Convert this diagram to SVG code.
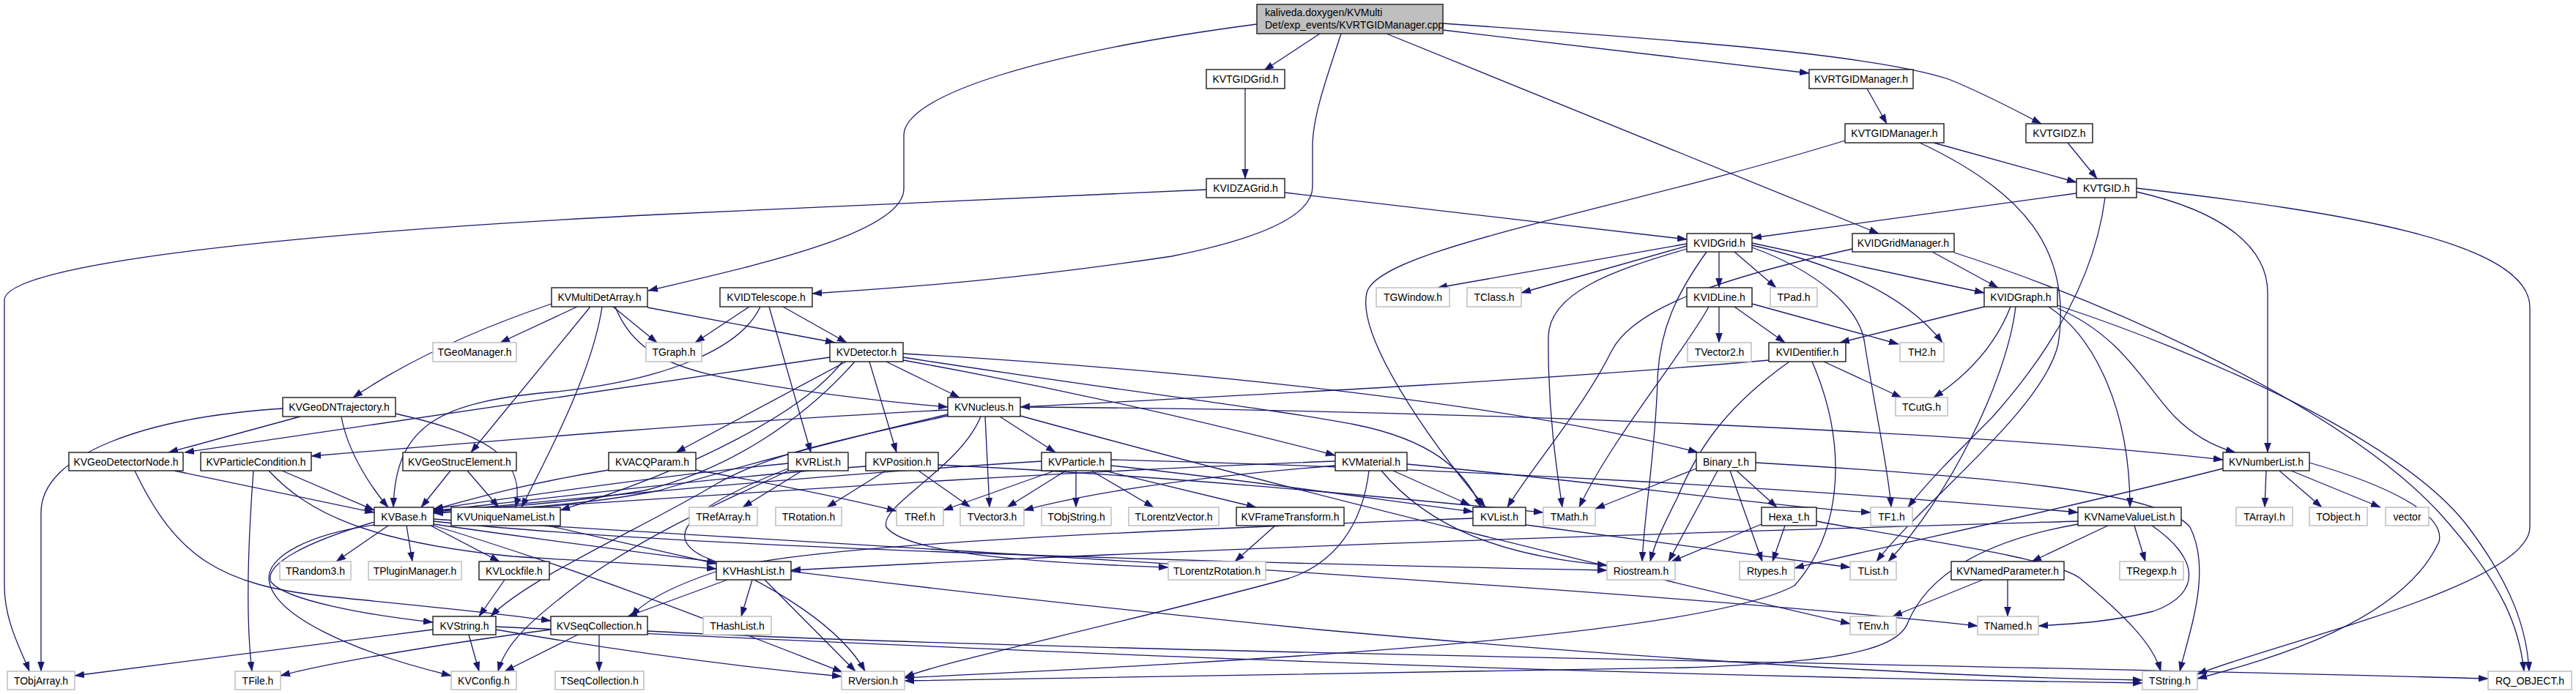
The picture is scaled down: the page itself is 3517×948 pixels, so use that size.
<svg xmlns="http://www.w3.org/2000/svg" width="3517" height="948" viewBox="0 0 3517 948">
<style>
.n rect{fill:#fff;stroke:#1a1a1a;stroke-width:1.4}
.x rect{fill:#fff;stroke:#bfbfbf;stroke-width:1.5}
.r rect{fill:#bfbfbf;stroke:#1a1a1a;stroke-width:1.4}
text{font-family:"Liberation Sans",Arial,Helvetica,sans-serif;font-size:14px;fill:#000;text-anchor:middle}
.r text{text-anchor:start}
#edges path{fill:none;stroke:#191970;stroke-width:1.3;marker-end:url(#a)}
</style>
<defs>
<marker id="a" markerUnits="userSpaceOnUse" markerWidth="13" markerHeight="10" refX="13" refY="5" orient="auto" viewBox="0 0 13 10">
<path d="M0,0.5 L13,5 L0,9.5 z" fill="#191970" stroke="#191970" stroke-width="0.5"/>
</marker>
</defs>
<rect width="3517" height="948" fill="#fff"/>
<g id="edges">
<path d="M1716,33 C1420,72 1234,130 1234,185 L1234,258 C1234,320 1020,365 885,397"/>
<path d="M1802,46 L1726,96"/>
<path d="M1831,46 C1810,110 1792,160 1792,200 L1792,255 C1792,300 1700,330 1600,350 C1400,380 1250,392 1109,401"/>
<path d="M1893,46 L2565,319"/>
<path d="M1970,41 L2470,100"/>
<path d="M1970,32 C2300,55 2560,75 2660,108 C2710,128 2750,150 2787,169"/>
<path d="M1700,121 L1700,244"/>
<path d="M2549,121 L2576,169"/>
<path d="M2823,195 L2863,244"/>
<path d="M2640,195 L2835,249"/>
<path d="M1754,263 L2303,327"/>
<path d="M2835,264 L2392,325"/>
<path d="M1647,259 L900,293 C400,318 6,360 6,410 L6,800 C6,850 30,890 40,917"/>
<path d="M2519,192 C2200,290 1880,340 1866,400 C1852,460 1950,600 2028,693"/>
<path d="M2621,195 C2760,260 2830,340 2810,470 C2790,560 2620,690 2562,767"/>
<path d="M2638,344 L2728,393"/>
<path d="M2529,340 C2350,380 2230,420 2200,480 C2160,560 2090,640 2058,693"/>
<path d="M2668,345 C2900,420 3200,560 3330,700 C3420,800 3440,860 3446,917"/>
<path d="M2303,333 L1963,393"/>
<path d="M2303,336 L2077,400"/>
<path d="M2347,344 L2347,393"/>
<path d="M2368,344 L2425,393"/>
<path d="M2392,332 L2709,400"/>
<path d="M2303,340 C2200,370 2115,400 2114,460 C2113,560 2125,640 2133,693"/>
<path d="M2330,344 C2290,400 2265,450 2263,520 C2260,620 2245,700 2242,767"/>
<path d="M2392,338 C2480,370 2540,420 2546,470 C2560,560 2578,640 2582,693"/>
<path d="M2392,335 C2500,360 2600,400 2652,468"/>
<path d="M2347,419 L2347,468"/>
<path d="M2368,419 L2437,468"/>
<path d="M2392,415 L2592,470"/>
<path d="M2333,419 C2300,480 2200,600 2156,693"/>
<path d="M2709,419 L2512,468"/>
<path d="M2745,419 C2725,470 2690,510 2640,543"/>
<path d="M2797,419 C2860,460 2908,560 2908,693"/>
<path d="M2809,421 C2900,460 2930,530 2970,570 C3000,600 3030,612 3052,618"/>
<path d="M2809,417 C3000,480 3280,600 3370,720 C3430,800 3450,860 3453,917"/>
<path d="M2752,419 C2740,520 2660,680 2578,767"/>
<path d="M2490,494 L2596,543"/>
<path d="M2415,492 C2100,520 1700,540 1393,556"/>
<path d="M2443,494 C2350,560 2315,620 2290,680 C2270,720 2260,740 2253,767"/>
<path d="M2474,494 C2520,600 2520,720 2450,800 C2300,880 1500,912 1235,926"/>
<path d="M2917,262 C3040,290 3096,340 3096,400 L3096,618"/>
<path d="M2917,257 C3200,290 3454,330 3454,420 L3454,720 C3454,800 3100,880 3000,921"/>
<path d="M2874,270 C2860,380 2800,480 2720,570 C2670,620 2630,660 2605,693"/>
<path d="M788,419 L683,468"/>
<path d="M837,419 L897,468"/>
<path d="M884,420 L1140,468"/>
<path d="M753,415 C650,450 560,490 482,543"/>
<path d="M806,419 L643,618"/>
<path d="M822,419 C810,500 760,600 712,693"/>
<path d="M840,419 C860,470 900,500 1000,518 C1100,536 1200,548 1294,556"/>
<path d="M1023,419 L949,468"/>
<path d="M1069,419 L1156,468"/>
<path d="M1050,419 L1107,618"/>
<path d="M1038,419 C1010,480 900,520 760,535 C600,548 540,580 537,693"/>
<path d="M1155,494 L923,618"/>
<path d="M1133,488 L252,618"/>
<path d="M1167,494 C1100,570 1000,640 880,670 C760,690 650,695 592,697"/>
<path d="M1187,494 L1224,618"/>
<path d="M1210,494 L1310,543"/>
<path d="M1233,483 C1700,510 2100,560 2318,618"/>
<path d="M1233,488 C1500,530 1750,560 1850,580 C1950,600 2000,640 2022,693"/>
<path d="M1233,492 C1500,540 1700,590 1823,622"/>
<path d="M1150,494 C1100,560 950,640 765,697"/>
<path d="M1294,560 C1000,575 700,600 425,623"/>
<path d="M1294,566 C1150,600 1000,640 900,670 C800,690 700,695 592,700"/>
<path d="M1345,569 L1351,693"/>
<path d="M1365,569 L1441,618"/>
<path d="M1393,556 C2000,560 2700,590 3035,628"/>
<path d="M1393,568 C1800,680 2300,800 2526,852"/>
<path d="M1339,569 C1310,640 1200,690 1210,720 C1240,760 1450,770 1595,775"/>
<path d="M1294,568 C1150,600 1050,620 980,660 C880,720 720,790 670,842"/>
<path d="M386,558 C200,570 56,620 56,700 L56,917"/>
<path d="M410,569 L230,618"/>
<path d="M466,569 C475,620 510,670 530,693"/>
<path d="M540,565 C650,590 720,620 704,693"/>
<path d="M238,643 L511,700"/>
<path d="M184,643 C240,760 300,800 450,815 C600,830 680,838 752,848"/>
<path d="M385,643 L511,697"/>
<path d="M346,643 C338,750 336,850 344,917"/>
<path d="M367,643 C420,700 500,740 700,760 C850,770 920,772 978,777"/>
<path d="M615,643 L575,693"/>
<path d="M638,643 L681,693"/>
<path d="M831,642 C720,660 650,680 592,696"/>
<path d="M950,642 C1050,660 1150,680 1224,698"/>
<path d="M1095,643 L1014,693"/>
<path d="M1076,633 C900,650 700,680 592,695"/>
<path d="M1076,640 C950,690 900,730 960,760 C1060,800 1150,860 1181,917"/>
<path d="M1182,637 C1000,650 750,680 592,698"/>
<path d="M1209,643 L1129,693"/>
<path d="M1254,643 L1325,693"/>
<path d="M1281,635 C1600,650 1900,680 2107,700"/>
<path d="M1422,630 C1100,650 750,685 592,699"/>
<path d="M1440,643 L1288,697"/>
<path d="M1455,643 L1375,693"/>
<path d="M1469,643 L1469,693"/>
<path d="M1490,643 L1575,693"/>
<path d="M1508,643 L1715,693"/>
<path d="M1517,636 C1700,655 1900,685 2011,699"/>
<path d="M1517,628 C2000,640 2500,670 2837,700"/>
<path d="M1823,630 C1300,650 800,690 592,701"/>
<path d="M1902,643 L2007,690"/>
<path d="M1886,643 C1950,720 2050,760 2194,772"/>
<path d="M1921,634 C2200,660 2400,690 2554,700"/>
<path d="M1823,636 C1650,650 1500,670 1398,697"/>
<path d="M1869,643 C1860,720 1820,770 1760,790 C1500,860 1300,900 1235,925"/>
<path d="M2316,640 L2178,695"/>
<path d="M2345,643 L2278,767"/>
<path d="M2362,643 L2406,767"/>
<path d="M2371,643 L2426,693"/>
<path d="M2397,632 C2700,650 2950,670 2990,720 C3020,780 2990,860 2976,917"/>
<path d="M2405,716 L2282,767"/>
<path d="M2437,718 L2420,767"/>
<path d="M2480,712 C2600,735 2800,760 2840,790 C2900,840 2940,880 2950,917"/>
<path d="M2083,717 L2526,775"/>
<path d="M2011,708 C1700,720 1100,740 980,780 C920,800 880,820 862,842"/>
<path d="M3094,643 L3092,693"/>
<path d="M3112,643 L3170,693"/>
<path d="M3128,643 L3250,693"/>
<path d="M3153,632 C3250,660 3340,700 3330,740 C3280,850 3100,900 3000,927"/>
<path d="M3035,640 C2800,700 2600,740 2450,776"/>
<path d="M2837,712 C2400,725 1700,745 1080,779"/>
<path d="M2878,718 L2774,767"/>
<path d="M2914,718 L2929,767"/>
<path d="M2938,718 C3000,760 3010,810 2940,835 C2880,850 2830,852 2783,855"/>
<path d="M2837,716 C2700,740 2630,790 2605,850 C2590,890 2500,905 2300,912 L1235,930"/>
<path d="M2741,792 L2741,842"/>
<path d="M2707,792 L2584,842"/>
<path d="M530,718 L459,767"/>
<path d="M555,718 L563,767"/>
<path d="M588,718 L682,767"/>
<path d="M511,713 C420,740 360,770 370,795 C390,820 500,840 591,850"/>
<path d="M511,717 C420,730 367,760 367,790 C370,840 480,890 616,923"/>
<path d="M592,712 C900,745 1500,765 2194,779"/>
<path d="M592,709 C1000,735 2200,800 2700,855"/>
<path d="M592,716 C900,760 1300,810 1800,860 C2300,905 2700,926 2925,929"/>
<path d="M592,718 C800,780 1000,860 1150,918"/>
<path d="M748,718 L978,770"/>
<path d="M689,792 L654,842"/>
<path d="M993,792 L857,842"/>
<path d="M1027,792 L1012,842"/>
<path d="M1044,792 L1168,917"/>
<path d="M591,860 L102,923"/>
<path d="M640,867 L654,917"/>
<path d="M677,860 C850,890 1000,910 1149,924"/>
<path d="M677,856 C1200,880 2000,920 2925,933"/>
<path d="M818,867 L818,917"/>
<path d="M789,867 L689,917"/>
<path d="M752,860 C600,880 450,905 383,923"/>
<path d="M884,862 C1400,890 2600,905 3397,927"/>
<path d="M1741,718 L1686,767"/>
<path d="M1076,643 C1000,680 900,720 800,790 C720,850 690,880 680,917"/>
</g>
<g id="nodes">
<g id="n-root" class="r"><rect x="1716" y="6" width="254" height="40"/><text x="1727" y="22">kaliveda.doxygen/KVMulti</text><text x="1727" y="39">Det/exp_events/KVRTGIDManager.cpp</text></g>
<g id="n-KVTGIDGrid" class="n"><rect x="1647" y="95" width="107" height="26"/><text x="1700.5" y="113">KVTGIDGrid.h</text></g>
<g id="n-KVIDZAGrid" class="n"><rect x="1647" y="244" width="107" height="26"/><text x="1700.5" y="262">KVIDZAGrid.h</text></g>
<g id="n-KVRTGIDManager" class="n"><rect x="2470" y="95" width="142" height="26"/><text x="2541" y="113">KVRTGIDManager.h</text></g>
<g id="n-KVTGIDManager" class="n"><rect x="2519" y="169" width="135" height="26"/><text x="2586.5" y="187">KVTGIDManager.h</text></g>
<g id="n-KVTGIDZ" class="n"><rect x="2766" y="169" width="91" height="26"/><text x="2811.5" y="187">KVTGIDZ.h</text></g>
<g id="n-KVTGID" class="n"><rect x="2835" y="244" width="82" height="26"/><text x="2876" y="262">KVTGID.h</text></g>
<g id="n-KVIDGrid" class="n"><rect x="2303" y="319" width="89" height="25"/><text x="2347.5" y="336.5">KVIDGrid.h</text></g>
<g id="n-KVIDGridManager" class="n"><rect x="2529" y="319" width="139" height="25"/><text x="2598.5" y="336.5">KVIDGridManager.h</text></g>
<g id="n-KVMultiDetArray" class="n"><rect x="753" y="393" width="131" height="26"/><text x="818.5" y="411">KVMultiDetArray.h</text></g>
<g id="n-KVIDTelescope" class="n"><rect x="983" y="393" width="126" height="26"/><text x="1046" y="411">KVIDTelescope.h</text></g>
<g id="n-TGWindow" class="x"><rect x="1879" y="393" width="100" height="26"/><text x="1929" y="411">TGWindow.h</text></g>
<g id="n-TClass" class="x"><rect x="2003" y="393" width="74" height="26"/><text x="2040" y="411">TClass.h</text></g>
<g id="n-KVIDLine" class="n"><rect x="2303" y="393" width="89" height="26"/><text x="2347.5" y="411">KVIDLine.h</text></g>
<g id="n-TPad" class="x"><rect x="2417" y="393" width="64" height="26"/><text x="2449" y="411">TPad.h</text></g>
<g id="n-KVIDGraph" class="n"><rect x="2709" y="393" width="100" height="26"/><text x="2759" y="411">KVIDGraph.h</text></g>
<g id="n-TGeoManager" class="x"><rect x="591" y="468" width="114" height="26"/><text x="648" y="486">TGeoManager.h</text></g>
<g id="n-TGraph" class="x"><rect x="882" y="468" width="76" height="26"/><text x="920" y="486">TGraph.h</text></g>
<g id="n-KVDetector" class="n"><rect x="1133" y="468" width="100" height="26"/><text x="1183" y="486">KVDetector.h</text></g>
<g id="n-TVector2" class="x"><rect x="2304" y="468" width="87" height="26"/><text x="2347.5" y="486">TVector2.h</text></g>
<g id="n-KVIDentifier" class="n"><rect x="2415" y="468" width="105" height="26"/><text x="2467.5" y="486">KVIDentifier.h</text></g>
<g id="n-TH2" class="x"><rect x="2594" y="468" width="60" height="26"/><text x="2624" y="486">TH2.h</text></g>
<g id="n-KVGeoDNTrajectory" class="n"><rect x="386" y="543" width="154" height="26"/><text x="463" y="561">KVGeoDNTrajectory.h</text></g>
<g id="n-KVNucleus" class="n"><rect x="1294" y="543" width="99" height="26"/><text x="1343.5" y="561">KVNucleus.h</text></g>
<g id="n-TCutG" class="x"><rect x="2588" y="543" width="71" height="25"/><text x="2623.5" y="560.5">TCutG.h</text></g>
<g id="n-KVGeoDetectorNode" class="n"><rect x="94" y="618" width="156" height="25"/><text x="172" y="635.5">KVGeoDetectorNode.h</text></g>
<g id="n-KVParticleCondition" class="n"><rect x="274" y="618" width="151" height="25"/><text x="349.5" y="635.5">KVParticleCondition.h</text></g>
<g id="n-KVGeoStrucElement" class="n"><rect x="550" y="618" width="155" height="25"/><text x="627.5" y="635.5">KVGeoStrucElement.h</text></g>
<g id="n-KVACQParam" class="n"><rect x="831" y="618" width="119" height="25"/><text x="890.5" y="635.5">KVACQParam.h</text></g>
<g id="n-KVRList" class="n"><rect x="1076" y="618" width="82" height="25"/><text x="1117" y="635.5">KVRList.h</text></g>
<g id="n-KVPosition" class="n"><rect x="1182" y="618" width="99" height="25"/><text x="1231.5" y="635.5">KVPosition.h</text></g>
<g id="n-KVParticle" class="n"><rect x="1422" y="618" width="95" height="25"/><text x="1469.5" y="635.5">KVParticle.h</text></g>
<g id="n-KVMaterial" class="n"><rect x="1823" y="618" width="98" height="25"/><text x="1872" y="635.5">KVMaterial.h</text></g>
<g id="n-Binary_t" class="n"><rect x="2316" y="618" width="81" height="25"/><text x="2356.5" y="635.5">Binary_t.h</text></g>
<g id="n-KVNumberList" class="n"><rect x="3035" y="618" width="118" height="25"/><text x="3094" y="635.5">KVNumberList.h</text></g>
<g id="n-KVBase" class="n"><rect x="511" y="693" width="81" height="25"/><text x="551.5" y="710.5">KVBase.h</text></g>
<g id="n-KVUniqueNameList" class="n"><rect x="616" y="693" width="149" height="25"/><text x="690.5" y="710.5">KVUniqueNameList.h</text></g>
<g id="n-TRefArray" class="x"><rect x="941" y="693" width="93" height="25"/><text x="987.5" y="710.5">TRefArray.h</text></g>
<g id="n-TRotation" class="x"><rect x="1059" y="693" width="90" height="25"/><text x="1104" y="710.5">TRotation.h</text></g>
<g id="n-TRef" class="x"><rect x="1224" y="693" width="64" height="25"/><text x="1256" y="710.5">TRef.h</text></g>
<g id="n-TVector3" class="x"><rect x="1311" y="693" width="87" height="25"/><text x="1354.5" y="710.5">TVector3.h</text></g>
<g id="n-TObjString" class="x"><rect x="1422" y="693" width="95" height="25"/><text x="1469.5" y="710.5">TObjString.h</text></g>
<g id="n-TLorentzVector" class="x"><rect x="1541" y="693" width="123" height="25"/><text x="1602.5" y="710.5">TLorentzVector.h</text></g>
<g id="n-KVFrameTransform" class="n"><rect x="1688" y="693" width="147" height="25"/><text x="1761.5" y="710.5">KVFrameTransform.h</text></g>
<g id="n-KVList" class="n"><rect x="2011" y="693" width="72" height="25"/><text x="2047" y="710.5">KVList.h</text></g>
<g id="n-TMath" class="x"><rect x="2107" y="693" width="71" height="25"/><text x="2142.5" y="710.5">TMath.h</text></g>
<g id="n-Hexa_t" class="n"><rect x="2405" y="693" width="75" height="25"/><text x="2442.5" y="710.5">Hexa_t.h</text></g>
<g id="n-TF1" class="x"><rect x="2554" y="693" width="57" height="25"/><text x="2582.5" y="710.5">TF1.h</text></g>
<g id="n-KVNameValueList" class="n"><rect x="2837" y="693" width="141" height="25"/><text x="2907.5" y="710.5">KVNameValueList.h</text></g>
<g id="n-TArrayI" class="x"><rect x="3053" y="693" width="77" height="25"/><text x="3091.5" y="710.5">TArrayI.h</text></g>
<g id="n-TObject" class="x"><rect x="3153" y="693" width="79" height="25"/><text x="3192.5" y="710.5">TObject.h</text></g>
<g id="n-vector" class="x"><rect x="3257" y="693" width="59" height="25"/><text x="3286.5" y="710.5">vector</text></g>
<g id="n-TRandom3" class="x"><rect x="382" y="767" width="97" height="25"/><text x="430.5" y="784.5">TRandom3.h</text></g>
<g id="n-TPluginManager" class="x"><rect x="503" y="767" width="127" height="25"/><text x="566.5" y="784.5">TPluginManager.h</text></g>
<g id="n-KVLockfile" class="n"><rect x="654" y="767" width="96" height="25"/><text x="702" y="784.5">KVLockfile.h</text></g>
<g id="n-KVHashList" class="n"><rect x="978" y="767" width="102" height="25"/><text x="1029" y="784.5">KVHashList.h</text></g>
<g id="n-TLorentzRotation" class="x"><rect x="1595" y="767" width="133" height="25"/><text x="1661.5" y="784.5">TLorentzRotation.h</text></g>
<g id="n-Riostream" class="x"><rect x="2194" y="767" width="93" height="25"/><text x="2240.5" y="784.5">Riostream.h</text></g>
<g id="n-Rtypes" class="x"><rect x="2375" y="767" width="75" height="25"/><text x="2412.5" y="784.5">Rtypes.h</text></g>
<g id="n-TList" class="x"><rect x="2526" y="767" width="63" height="25"/><text x="2557.5" y="784.5">TList.h</text></g>
<g id="n-KVNamedParameter" class="n"><rect x="2664" y="767" width="154" height="25"/><text x="2741" y="784.5">KVNamedParameter.h</text></g>
<g id="n-TRegexp" class="x"><rect x="2894" y="767" width="87" height="25"/><text x="2937.5" y="784.5">TRegexp.h</text></g>
<g id="n-KVString" class="n"><rect x="591" y="842" width="86" height="25"/><text x="634" y="859.5">KVString.h</text></g>
<g id="n-KVSeqCollection" class="n"><rect x="752" y="842" width="132" height="25"/><text x="818" y="859.5">KVSeqCollection.h</text></g>
<g id="n-THashList" class="x"><rect x="960" y="842" width="93" height="25"/><text x="1006.5" y="859.5">THashList.h</text></g>
<g id="n-TEnv" class="x"><rect x="2526" y="842" width="63" height="25"/><text x="2557.5" y="859.5">TEnv.h</text></g>
<g id="n-TNamed" class="x"><rect x="2700" y="842" width="83" height="25"/><text x="2741.5" y="859.5">TNamed.h</text></g>
<g id="n-TObjArray" class="x"><rect x="10" y="917" width="92" height="25"/><text x="56" y="934.5">TObjArray.h</text></g>
<g id="n-TFile" class="x"><rect x="321" y="917" width="62" height="25"/><text x="352" y="934.5">TFile.h</text></g>
<g id="n-KVConfig" class="x"><rect x="616" y="917" width="89" height="25"/><text x="660.5" y="934.5">KVConfig.h</text></g>
<g id="n-TSeqCollection" class="x"><rect x="758" y="917" width="121" height="25"/><text x="818.5" y="934.5">TSeqCollection.h</text></g>
<g id="n-RVersion" class="x"><rect x="1149" y="917" width="86" height="25"/><text x="1192" y="934.5">RVersion.h</text></g>
<g id="n-TString" class="x"><rect x="2925" y="917" width="75" height="25"/><text x="2962.5" y="934.5">TString.h</text></g>
<g id="n-RQ_OBJECT" class="x"><rect x="3397" y="917" width="114" height="25"/><text x="3454" y="934.5">RQ_OBJECT.h</text></g>
</g>
</svg>
